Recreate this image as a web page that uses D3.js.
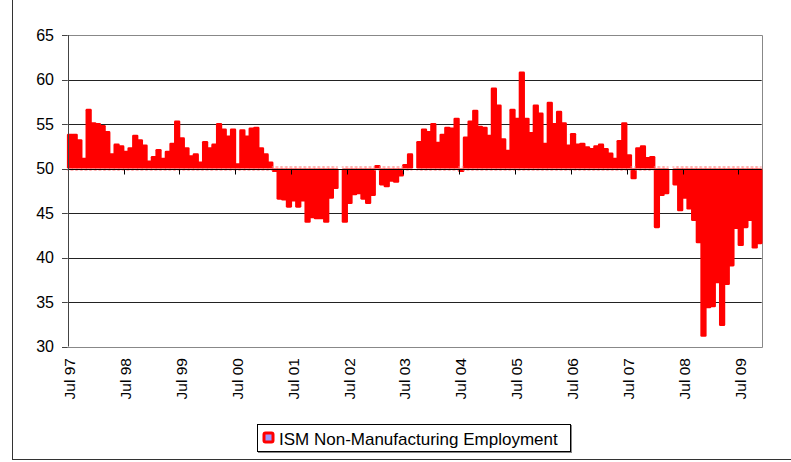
<!DOCTYPE html>
<meta charset="utf-8">
<script src="https://d3js.org/d3.v7.min.js"></script>
<style>
body { margin: 0; background: #fff; }
text { font-family: "Liberation Sans", Arial, sans-serif; fill: #000; }
</style>
<div id="chart"></div>
<script>

// ---- data ----
var seriesName = "ISM Non-Manufacturing Employment";
var yTicks = [30, 35, 40, 45, 50, 55, 60, 65];
var xTickLabels = ["Jul 97", "Jul 98", "Jul 99", "Jul 00", "Jul 01", "Jul 02",
                   "Jul 03", "Jul 04", "Jul 05", "Jul 06", "Jul 07", "Jul 08", "Jul 09"];

// monthly index, Jul 1997 .. Nov 2009
var values1997 = [53.9, 53.9, 53.3, 51.2, 56.7, 55.2];
var values1998 = [55.1, 54.9, 54.2, 51.7, 52.8, 52.6, 52.0, 52.4, 53.8, 53.3, 52.7, 50.9];
var values1999 = [51.4, 52.2, 51.2, 52.0, 52.9, 55.4, 53.5, 52.4, 51.5, 51.7, 50.8, 53.1];
var values2000 = [52.4, 52.8, 55.1, 54.5, 53.7, 54.5, 50.6, 54.4, 53.7, 54.6, 54.7, 52.4];
var values2001 = [51.7, 50.8, 49.6, 46.5, 46.4, 45.6, 46.3, 45.6, 46.3, 43.9, 44.4, 44.3];
var values2002 = [44.3, 43.9, 46.6, 47.7, 50.0, 43.9, 46.0, 47.0, 47.1, 46.5, 46.0, 46.9];
var values2003 = [50.4, 48.1, 47.9, 48.5, 48.4, 49.1, 50.5, 51.7, 50.0, 53.1, 54.5, 54.2];
var values2004 = [55.1, 53.0, 53.9, 54.7, 54.6, 55.7, 49.6, 53.6, 55.4, 56.6, 54.8, 54.7];
var values2005 = [53.8, 59.1, 57.2, 53.4, 52.1, 56.7, 55.7, 60.9, 55.7, 54.1, 57.2, 56.3];
var values2006 = [52.9, 57.5, 55.1, 56.5, 55.2, 52.7, 54.0, 52.8, 52.9, 52.5, 52.3, 52.6];
var values2007 = [52.8, 52.3, 51.8, 51.2, 53.2, 55.2, 51.6, 48.8, 52.4, 52.6, 51.3, 51.4];
var values2008 = [43.3, 46.9, 47.1, 50.0, 48.1, 45.2, 46.6, 45.4, 44.1, 41.6, 31.1, 34.3];
var values2009 = [34.4, 37.1, 32.3, 36.9, 39.0, 43.2, 41.3, 43.3, 44.1, 41.0, 41.5];

var employment = [].concat(values1997, values1998, values1999, values2000, values2001,
  values2002, values2003, values2004, values2005, values2006, values2007, values2008, values2009);

// ---- layout ----
var width = 791, height = 462;
var plot = {left: 67.7, right: 761.7, top: 35, bottom: 346.5};
var base = 50;

var svg = d3.select("#chart")
  .append("svg")
    .attr("width", width)
    .attr("height", height);

// chart area border
svg.append("rect")
  .attr("x", 12.5).attr("y", -2)
  .attr("width", 800).attr("height", 461.5)
  .attr("fill", "#fff")
  .attr("stroke", "#333");

// scales
var months = d3.timeMonth.range(new Date(1997, 6, 1), new Date(1997, 6 + employment.length, 1));
var x = d3.scaleBand()
  .domain(months.map(function(d, i) { return i; }))
  .range([plot.left, plot.right])
  .padding(0);
var y = d3.scaleLinear()
  .domain([30, 65])
  .range([plot.bottom, plot.top]);

// gridlines
svg.append("g")
  .selectAll("line")
  .data(yTicks.filter(function(d) { return d != base && d != 65 && d != 30; }))
  .join("line")
    .attr("x1", plot.left).attr("x2", plot.right)
    .attr("y1", function(d) { return Math.round(y(d)) + 0.5; })
    .attr("y2", function(d) { return Math.round(y(d)) + 0.5; })
    .attr("stroke", "#222");

// plot border (top, right, bottom)
svg.append("path")
  .attr("d", "M" + plot.left + "," + (Math.round(y(65)) + 0.5) +
             "H" + (Math.round(plot.right) + 0.5) +
             "V" + (Math.round(y(30)) + 0.5) +
             "H" + plot.left)
  .attr("fill", "none")
  .attr("stroke", "#888");

// bars
var bars = svg.append("g");
bars.selectAll("rect")
  .data(employment)
  .join("rect")
    .attr("x", function(d, i) { return x(i) - 0.8; })
    .attr("width", x.bandwidth() + 1.6)
    .attr("y", function(d) { return y(Math.max(d, base)); })
    .attr("height", function(d) { return Math.abs(y(d) - y(base)); })
    .attr("rx", 1.3)
    .attr("fill", "#ff0000");

// light dashed edge where each bar meets the baseline
bars.selectAll("line")
  .data(employment.map(function(d, i) { return {v: d, i: i}; })
    .filter(function(d) { return d.v != base; }))
  .join("line")
    .attr("x1", function(d) { return x(d.i) - 0.8; })
    .attr("x2", function(d) { return x(d.i) + x.bandwidth() + 0.8; })
    .attr("y1", function(d) { return y(base) + (d.v > base ? 1.5 : -1.5); })
    .attr("y2", function(d) { return y(base) + (d.v > base ? 1.5 : -1.5); })
    .attr("stroke", "#ff8c8c")
    .attr("stroke-dasharray", "2,1.5");

// x axis line at 50
var y50 = Math.round(y(base)) + 0.5;
svg.append("line")
  .attr("x1", plot.left).attr("x2", plot.right)
  .attr("y1", y50).attr("y2", y50)
  .attr("stroke", "#000");

// x ticks (every July)
var julyIdx = months.map(function(d, i) { return i; })
  .filter(function(i) { return months[i].getMonth() == 6; });
svg.append("g")
  .selectAll("line")
  .data(julyIdx)
  .join("line")
    .attr("x1", function(i) { return Math.round(x(i)) + 0.5; })
    .attr("x2", function(i) { return Math.round(x(i)) + 0.5; })
    .attr("y1", y50).attr("y2", y50 + 5)
    .attr("stroke", "#000");

// x labels, rotated
svg.append("g")
  .selectAll("text")
  .data(julyIdx)
  .join("text")
    .attr("transform", function(i) { return "translate(" + (x(i) + 2) + "," + 358 + ") rotate(-90)"; })
    .attr("text-anchor", "end")
    .attr("dy", "0.35em")
    .style("font-size", "15.5px")
    .text(function(i, k) { return xTickLabels[k]; });

// y axis
svg.append("line")
  .attr("x1", Math.round(plot.left) + 0.5).attr("x2", Math.round(plot.left) + 0.5)
  .attr("y1", plot.top).attr("y2", plot.bottom)
  .attr("stroke", "#444");
svg.append("g")
  .selectAll("line")
  .data(yTicks)
  .join("line")
    .attr("x1", 62).attr("x2", plot.left)
    .attr("y1", function(d) { return Math.round(y(d)) + 0.5; })
    .attr("y2", function(d) { return Math.round(y(d)) + 0.5; })
    .attr("stroke", "#444");
svg.append("g")
  .selectAll("text")
  .data(yTicks)
  .join("text")
    .attr("x", 54)
    .attr("y", function(d) { return y(d); })
    .attr("dy", "0.36em")
    .attr("text-anchor", "end")
    .style("font-size", "16px")
    .text(function(d) { return d; });

// legend
var legend = svg.append("g");
legend.append("rect")
  .attr("x", 258.5).attr("y", 425.5).attr("width", 313).attr("height", 27)
  .attr("fill", "none").attr("stroke", "#888");
legend.append("rect")
  .attr("x", 257.5).attr("y", 424.5).attr("width", 313).attr("height", 27)
  .attr("fill", "#fff").attr("stroke", "#000");
legend.append("rect")
  .attr("x", 264).attr("y", 433).attr("width", 9).attr("height", 9)
  .attr("rx", 1.5)
  .attr("fill", "#9999ff")
  .attr("stroke", "#ff0000")
  .attr("stroke-width", 3);
legend.append("text")
  .attr("x", 279).attr("y", 444.5)
  .style("font-size", "17px")
  .text(seriesName);

</script>
